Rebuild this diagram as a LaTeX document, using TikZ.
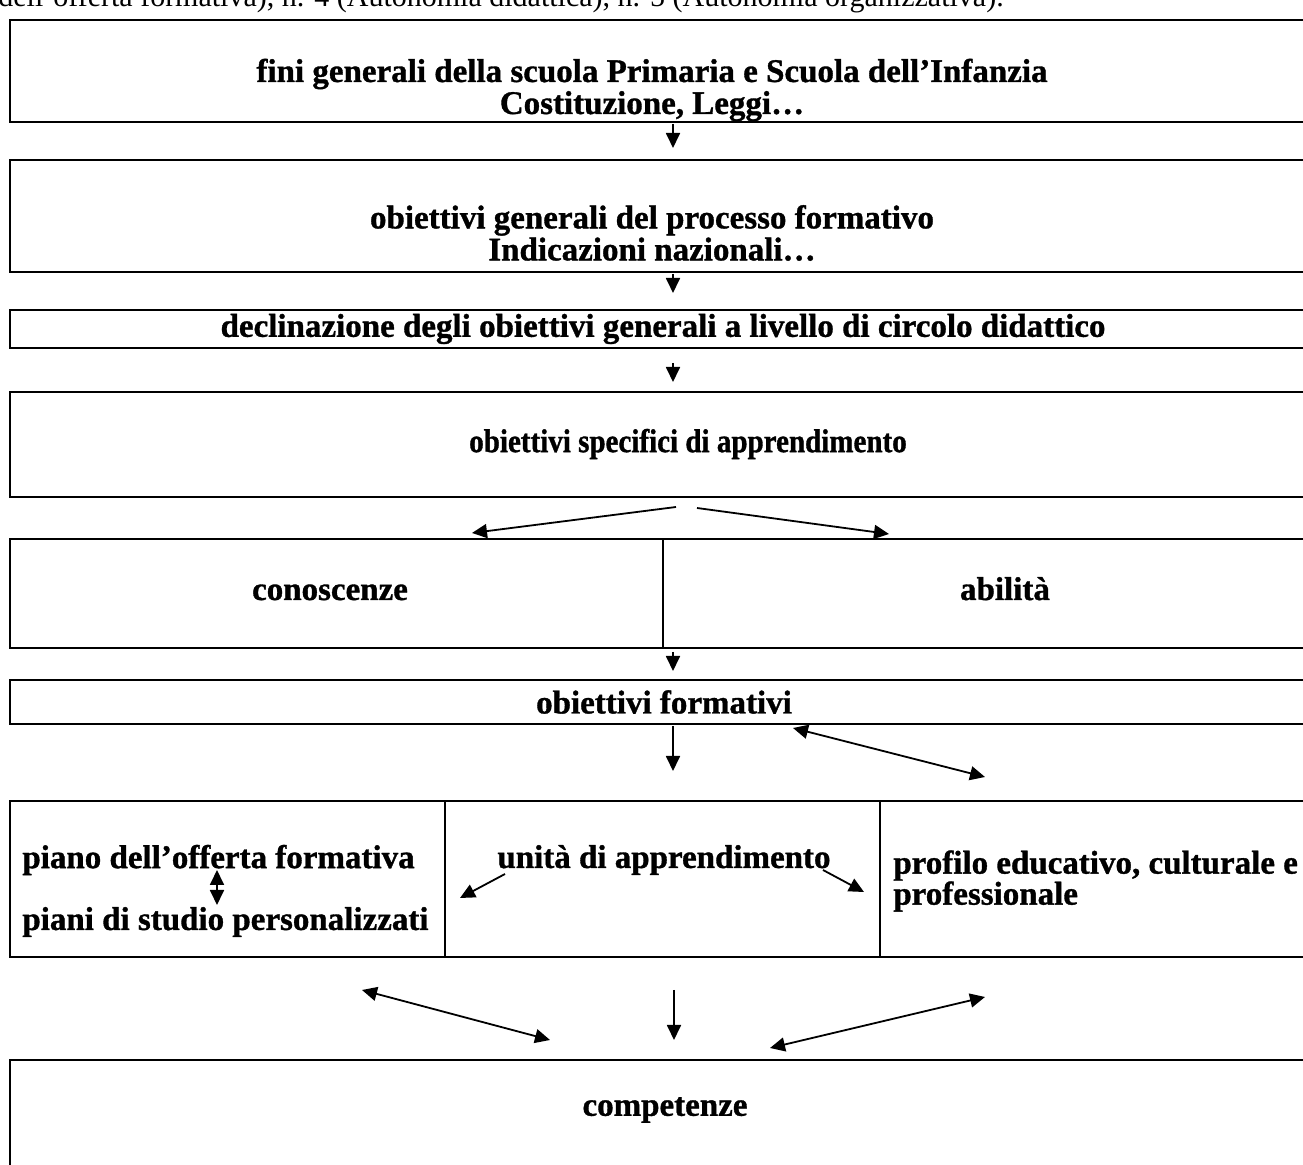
\documentclass[tikz,border=0pt]{standalone}
\usepackage{fontspec}
\setmainfont{Liberation Serif}[BoldFeatures={FakeBold=1}]
\newfontfamily\narrowserif{Liberation Serif}[FakeStretch=0.88, BoldFeatures={FakeBold=1}]
\usetikzlibrary{positioning, arrows.meta}

\begin{document}
\begin{tikzpicture}[
        x=0.5pt, y=-0.5pt,
        box/.style={draw, rectangle, line width=1.4pt, inner sep=0pt, minimum width=655pt},
        cell/.style={draw, rectangle, line width=1.4pt, inner sep=0pt},
        box_text/.style={font=\fontsize{16.5}{16}\selectfont\bfseries, align=center, inner sep=0pt},
        left_text/.style={font=\fontsize{16.5}{15.5}\selectfont\bfseries, align=left, inner sep=0pt, anchor=west},
        arrow/.style={->, >={Triangle[length=7.5pt, width=7pt]}, line width=0.9pt},
        both_arrow/.style={<->, >={Triangle[length=7.5pt, width=7pt]}, line width=0.9pt}
    ]
        \useasboundingbox (0,0) rectangle (1303,1165);

        % riga tagliata in alto
        \node[anchor=base west, inner sep=0pt, font=\fontsize{15}{15}\selectfont] (intro) at (-2,7) {dell'offerta formativa), n. 4 (Autonomia didattica), n. 5 (Autonomia organizzativa).};

        % riquadri
        \node[box, minimum height=51pt] (box_fini) at (665,71) {};
        \node[box, minimum height=56pt] (box_generali) at (665,216) {};
        \node[box, minimum height=19pt] (box_declinazione) at (665,329) {};
        \node[box, minimum height=52.5pt] (box_specifici) at (665,444.5) {};
        \node[cell, minimum width=326.5pt, minimum height=54.5pt] (cell_conoscenze) at (336.5,593.5) {};
        \node[cell, minimum width=328.5pt, minimum height=54.5pt] (cell_abilita) at (991.5,593.5) {};
        \node[box, minimum height=22pt] (box_formativi) at (665,702) {};
        \node[cell, minimum width=217.5pt, minimum height=78pt] (cell_piano) at (227.5,879) {};
        \node[cell, minimum width=217.5pt, minimum height=78pt] (cell_unita) at (662.5,879) {};
        \node[cell, minimum width=220pt, minimum height=78pt] (cell_profilo) at (1100,879) {};
        \node[box, minimum height=60pt] (box_competenze) at (665,1120) {};

        % testi
        \node[box_text] (fini) at (652,90) {fini generali della scuola Primaria e Scuola dell’Infanzia\\Costituzione, Leggi…};
        \node[box_text] (generali) at (652,233) {obiettivi generali del processo formativo\\Indicazioni nazionali…};
        \node[box_text] (declinazione) at (663,329) {declinazione degli obiettivi generali a livello di circolo didattico};
        \node[box_text, font=\fontsize{16.5}{16}\selectfont\narrowserif\bfseries] (specifici) at (688,444) {obiettivi specifici di apprendimento};
        \node[box_text, anchor=base] (conoscenze) at (330,600) {conoscenze};
        \node[box_text, anchor=base] (abilita) at (1005,600) {abilità};
        \node[box_text] (formativi) at (664,702) {obiettivi formativi};
        \node[left_text] (piano) at (22,860) {piano dell’offerta formativa};
        \node[left_text] (piani) at (22,922) {piani di studio personalizzati};
        \node[box_text] (unita) at (664,860) {unità di apprendimento};
        \node[left_text, anchor=north west] (profilo) at (893,850) {profilo educativo, culturale e\\professionale};
        \node[box_text] (competenze) at (665,1110) {competenze};

        % estremi delle frecce
        \coordinate (a1s) at (673,124);  \coordinate (a1e) at (673,148);
        \coordinate (a2s) at (673,274);  \coordinate (a2e) at (673,293);
        \coordinate (a3s) at (673,363);  \coordinate (a3e) at (673,382);
        \coordinate (a4s) at (676,507);  \coordinate (a4e) at (472,533);
        \coordinate (a5s) at (697,508);  \coordinate (a5e) at (889,534);
        \coordinate (a6s) at (673,652);  \coordinate (a6e) at (673,671);
        \coordinate (a7s) at (673,726);  \coordinate (a7e) at (673,771);
        \coordinate (a8s) at (793,728);  \coordinate (a8e) at (985,777);
        \coordinate (a9s) at (217,870);  \coordinate (a9e) at (217,905);
        \coordinate (a10s) at (505,874); \coordinate (a10e) at (460,898);
        \coordinate (a11s) at (823,870); \coordinate (a11e) at (864,892);
        \coordinate (a12s) at (362,990); \coordinate (a12e) at (550,1040);
        \coordinate (a13s) at (674,990); \coordinate (a13e) at (674,1040);
        \coordinate (a14s) at (985,997); \coordinate (a14e) at (770,1048);

        \draw[arrow] (a1s) -- (a1e);
        \draw[arrow] (a2s) -- (a2e);
        \draw[arrow] (a3s) -- (a3e);
        \draw[arrow] (a4s) -- (a4e);
        \draw[arrow] (a5s) -- (a5e);
        \draw[arrow] (a6s) -- (a6e);
        \draw[arrow] (a7s) -- (a7e);
        \draw[both_arrow] (a8s) -- (a8e);
        \draw[both_arrow] (a9s) -- (a9e);
        \draw[arrow] (a10s) -- (a10e);
        \draw[arrow] (a11s) -- (a11e);
        \draw[both_arrow] (a12s) -- (a12e);
        \draw[arrow] (a13s) -- (a13e);
        \draw[both_arrow] (a14s) -- (a14e);

    \end{tikzpicture}
\end{document}
